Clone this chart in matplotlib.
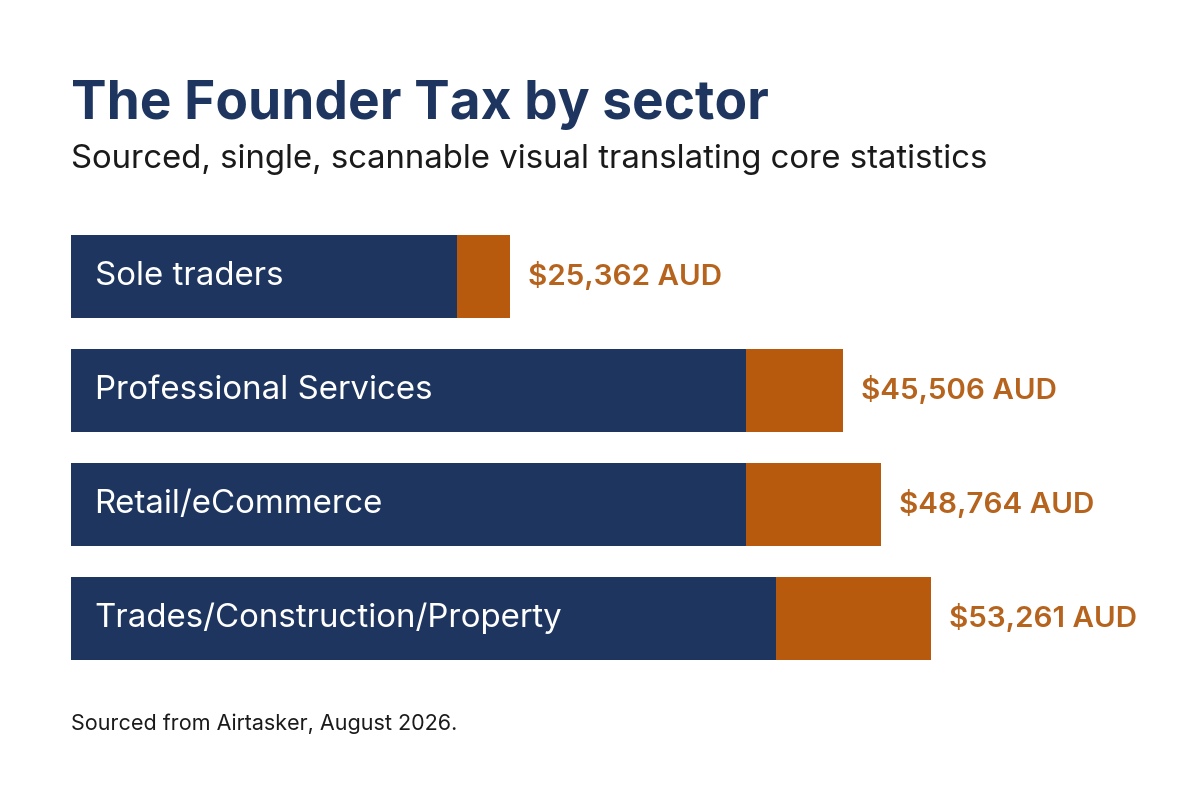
import matplotlib.pyplot as plt

# sector data (AUD); bar segments
sectors = ['Sole traders', 'Professional Services', 'Retail/eCommerce',
           'Trades/Construction/Property']
base_aud = [23160, 40500, 40500, 42300]
extra_aud = [3180, 5820, 8100, 9300]
totals = [25362, 45506, 48764, 53261]
value_labels = ['$25,362 AUD', '$45,506 AUD', '$48,764 AUD', '$53,261 AUD']

navy = '#1e365f'
orange = '#b85a0e'
label_orange = '#b5631d'

plt.rcParams['font.family'] = ['Inter', 'DejaVu Sans']

fig = plt.figure(figsize=(12, 8), dpi=100)
fig.patch.set_facecolor('white')

# axes placed so bars sit like the reference
ax = fig.add_axes([71 / 1200, 1 - 675.5 / 800, 1129 / 1200, 456 / 800])
ax.set_xlim(0, 1129 * 60)
ax.set_ylim(3.5, -0.5)
ax.axis('off')

y = range(len(sectors))
ax.barh(y, base_aud, height=0.73, color=navy)
ax.barh(y, extra_aud, left=base_aud, height=0.73, color=orange)

for i, name in enumerate(sectors):
    ax.annotate(name, (0, i), xytext=(17, 0), textcoords='offset points',
                ha='left', va='center', color='white', fontsize=23.8)
    end = base_aud[i] + extra_aud[i]
    ax.annotate(value_labels[i], (end, i), xytext=(13, 0),
                textcoords='offset points', ha='left', va='center',
                color=label_orange, fontsize=21.3, fontweight='semibold')

fig.text(71 / 1200, 1 - 119 / 800, 'The Founder Tax by sector',
         fontsize=38.3, fontweight='bold', color='#1e365f', va='baseline')
fig.text(71 / 1200, 1 - 168 / 800,
         'Sourced, single, scannable visual translating core statistics',
         fontsize=23.7, color='#1a1a1a', va='baseline')
fig.text(71 / 1200, 1 - 730 / 800, 'Sourced from Airtasker, August 2026.',
         fontsize=15.5, color='#1a1a1a', va='baseline')

fig.savefig('out.png', dpi=100)
